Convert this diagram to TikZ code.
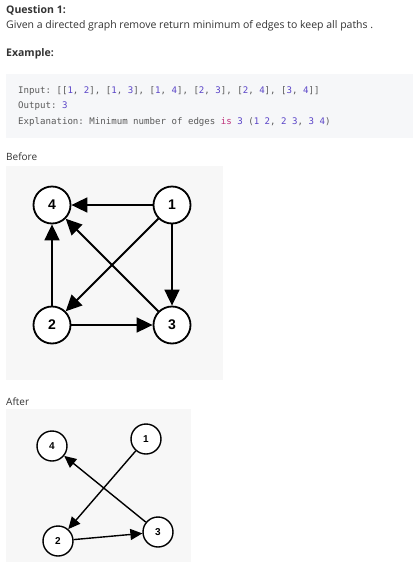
\documentclass[tikz,border=0pt]{standalone}
\usepackage{fontspec}
\setmainfont{Open Sans}
\setmonofont{DejaVu Sans Mono}
\newfontfamily\nodefont{Liberation Sans}
\usetikzlibrary{arrows.meta}
\definecolor{txt}{HTML}{333333}
\definecolor{codebg}{HTML}{F6F7F9}
\definecolor{figbg}{HTML}{F7F7F7}
\definecolor{codetxt}{HTML}{5A5A5A}
\definecolor{numc}{HTML}{5B45C8}
\definecolor{kwc}{HTML}{C0307A}
\newcommand\cn[1]{\textcolor{numc}{#1}}
\newcommand\ck[1]{\textcolor{kwc}{#1}}
\tikzset{
  heading/.style={anchor=west, inner sep=0pt, font=\fontsize{10.5}{13}\selectfont\bfseries, text=txt},
  para/.style={anchor=west, inner sep=0pt, font=\fontsize{10.5}{13}\selectfont, text=txt},
  codeline/.style={anchor=west, inner sep=0pt, font=\fontsize{9.1}{11}\selectfont\ttfamily, text=codetxt},
  bignode/.style={circle, draw=black, line width=1.8pt, fill=white, minimum size=37pt, inner sep=0pt, font=\fontsize{14}{16}\selectfont\nodefont\bfseries},
  smallnode/.style={circle, draw=black, line width=1.4pt, fill=white, minimum size=30pt, inner sep=0pt, font=\fontsize{10}{12}\selectfont\nodefont\bfseries},
  bigedge/.style={line width=1.8pt, -{Triangle[length=16pt,width=15pt]}},
  smalledge/.style={line width=1.4pt, -{Triangle[length=12pt,width=11pt]}},
}
\begin{document}
\begin{tikzpicture}[x=1pt,y=-1pt]
\useasboundingbox (0,0) rectangle (413,568);
\fill[white] (0,0) rectangle (413,568);
% header texts
\node[heading] (q) at (6,10) {Question 1:};
\node[para] (g) at (6,26) {Given a directed graph remove return minimum of edges to keep all paths .};
\node[heading] (ex) at (6,54) {Example:};
% code box
\fill[codebg] (6,74) rectangle (413,138);
\node[codeline] (in) at (18,91) {Input: [[\cn{1}, \cn{2}], [\cn{1}, \cn{3}], [\cn{1}, \cn{4}], [\cn{2}, \cn{3}], [\cn{2}, \cn{4}], [\cn{3}, \cn{4}]]};
\node[codeline] (out) at (18,106) {Output: \cn{3}};
\node[codeline] (expl) at (18,122) {Explanation: Minimum number of edges \ck{is} \cn{3} (\cn{1} \cn{2}, \cn{2} \cn{3}, \cn{3} \cn{4})};
% Before
\node[para, font=\fontsize{10}{12}\selectfont] (bl) at (6,157) {Before};
\fill[figbg] (6,166) rectangle (223,380);
\node[bignode] (b4) at (52,205) {4};
\node[bignode] (b1) at (172,205) {1};
\node[bignode] (b2) at (52,325) {2};
\node[bignode] (b3) at (172,325) {3};
\draw[bigedge] (b1) -- (b4);
\draw[bigedge] (b1) -- (b3);
\draw[bigedge] (b1) -- (b2);
\draw[bigedge] (b2) -- (b3);
\draw[bigedge] (b2) -- (b4);
\draw[bigedge] (b3) -- (b4);
% After
\node[para, font=\fontsize{10}{12}\selectfont] (al) at (6,402) {After};
\fill[figbg] (6,409) rectangle (191,562);
\node[smallnode] (a4) at (52,446) {4};
\node[smallnode] (a1) at (146,439) {1};
\node[smallnode] (a2) at (58,541) {2};
\node[smallnode] (a3) at (158,532) {3};
\draw[smalledge] (a1) -- (a2);
\draw[smalledge] (a2) -- (a3);
\draw[smalledge] (a3) -- (a4);
\end{tikzpicture}
\end{document}
